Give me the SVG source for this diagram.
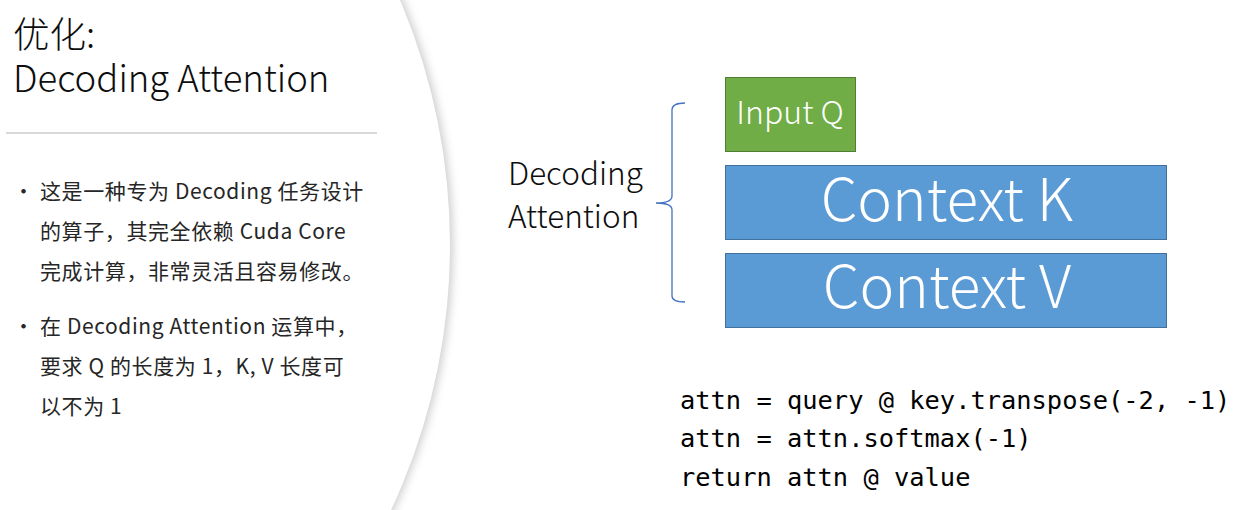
<svg xmlns="http://www.w3.org/2000/svg" width="1243" height="510" viewBox="0 0 1243 510">
<style>
.cjk{font-family:"Noto Sans CJK SC","Noto Sans",sans-serif;}
.title{font-size:36.5px;font-weight:300;fill:#0d0d0d;}
.body{font-size:21px;letter-spacing:0.6px;fill:#262626;}
.lbl{font-size:31.5px;font-weight:300;fill:#0d0d0d;}
.box-text{fill:#ffffff;text-anchor:middle;}
.code{font-family:"DejaVu Sans Mono","Liberation Mono",monospace;font-size:25.4px;fill:#000000;}
</style>
<defs>
<filter id="sh" x="-10%" y="-10%" width="120%" height="120%">
<feGaussianBlur stdDeviation="4"/>
</filter>
</defs>
<rect x="0" y="0" width="1243" height="510" fill="#ffffff"/>
<g id="panel">
<circle cx="-173" cy="245" r="626" fill="#cfcfcf" filter="url(#sh)"/>
<circle cx="-175" cy="245" r="625" fill="#ffffff"/>
</g>
<g id="title" class="cjk title">
<text x="13" y="48">优化:</text>
<text x="13" y="92">Decoding Attention</text>
</g>
<line x1="6" y1="133" x2="377" y2="133" stroke="#d9d9d9" stroke-width="2"/>
<g id="bullets" class="cjk body">
<text x="13" y="199">•</text>
<text x="40" y="199">这是一种专为 Decoding 任务设计</text>
<text x="40" y="239">的算子，其完全依赖 Cuda Core</text>
<text x="40" y="279">完成计算，非常灵活且容易修改。</text>
<text x="13" y="334">•</text>
<text x="40" y="334">在 Decoding Attention 运算中，</text>
<text x="40" y="374">要求 Q 的长度为 1，K, V 长度可</text>
<text x="40" y="414">以不为 1</text>
</g>
<g id="label" class="cjk lbl">
<text x="508" y="185">Decoding</text>
<text x="508" y="228">Attention</text>
</g>
<g id="connectors">
<path d="M685 103 Q672 103 672 110 L672 196 Q672 203 656 203 Q672 203 672 210 L672 296 Q672 302 685 302" fill="none" stroke="#4472c4" stroke-width="1.3"/>
</g>
<g id="inputQ">
<rect x="725.5" y="77.5" width="130" height="74" fill="#70ad47" stroke="#507e32" stroke-width="1"/>
<text class="cjk box-text" x="790" y="124" font-size="32" font-weight="300">Input Q</text>
</g>
<g id="contextK">
<rect x="725.5" y="165.5" width="441" height="74" fill="#5b9bd5" stroke="#41719c" stroke-width="1"/>
<text class="cjk box-text" x="947" y="221" font-size="58.5" font-weight="300">Context K</text>
</g>
<g id="contextV">
<rect x="725.5" y="253.5" width="441" height="74" fill="#5b9bd5" stroke="#41719c" stroke-width="1"/>
<text class="cjk box-text" x="947" y="308" font-size="58.5" font-weight="300">Context V</text>
</g>
<g id="code" class="code">
<text x="680" y="409">attn = query @ key.transpose(-2, -1)</text>
<text x="680" y="447">attn = attn.softmax(-1)</text>
<text x="680" y="486">return attn @ value</text>
</g>
</svg>
